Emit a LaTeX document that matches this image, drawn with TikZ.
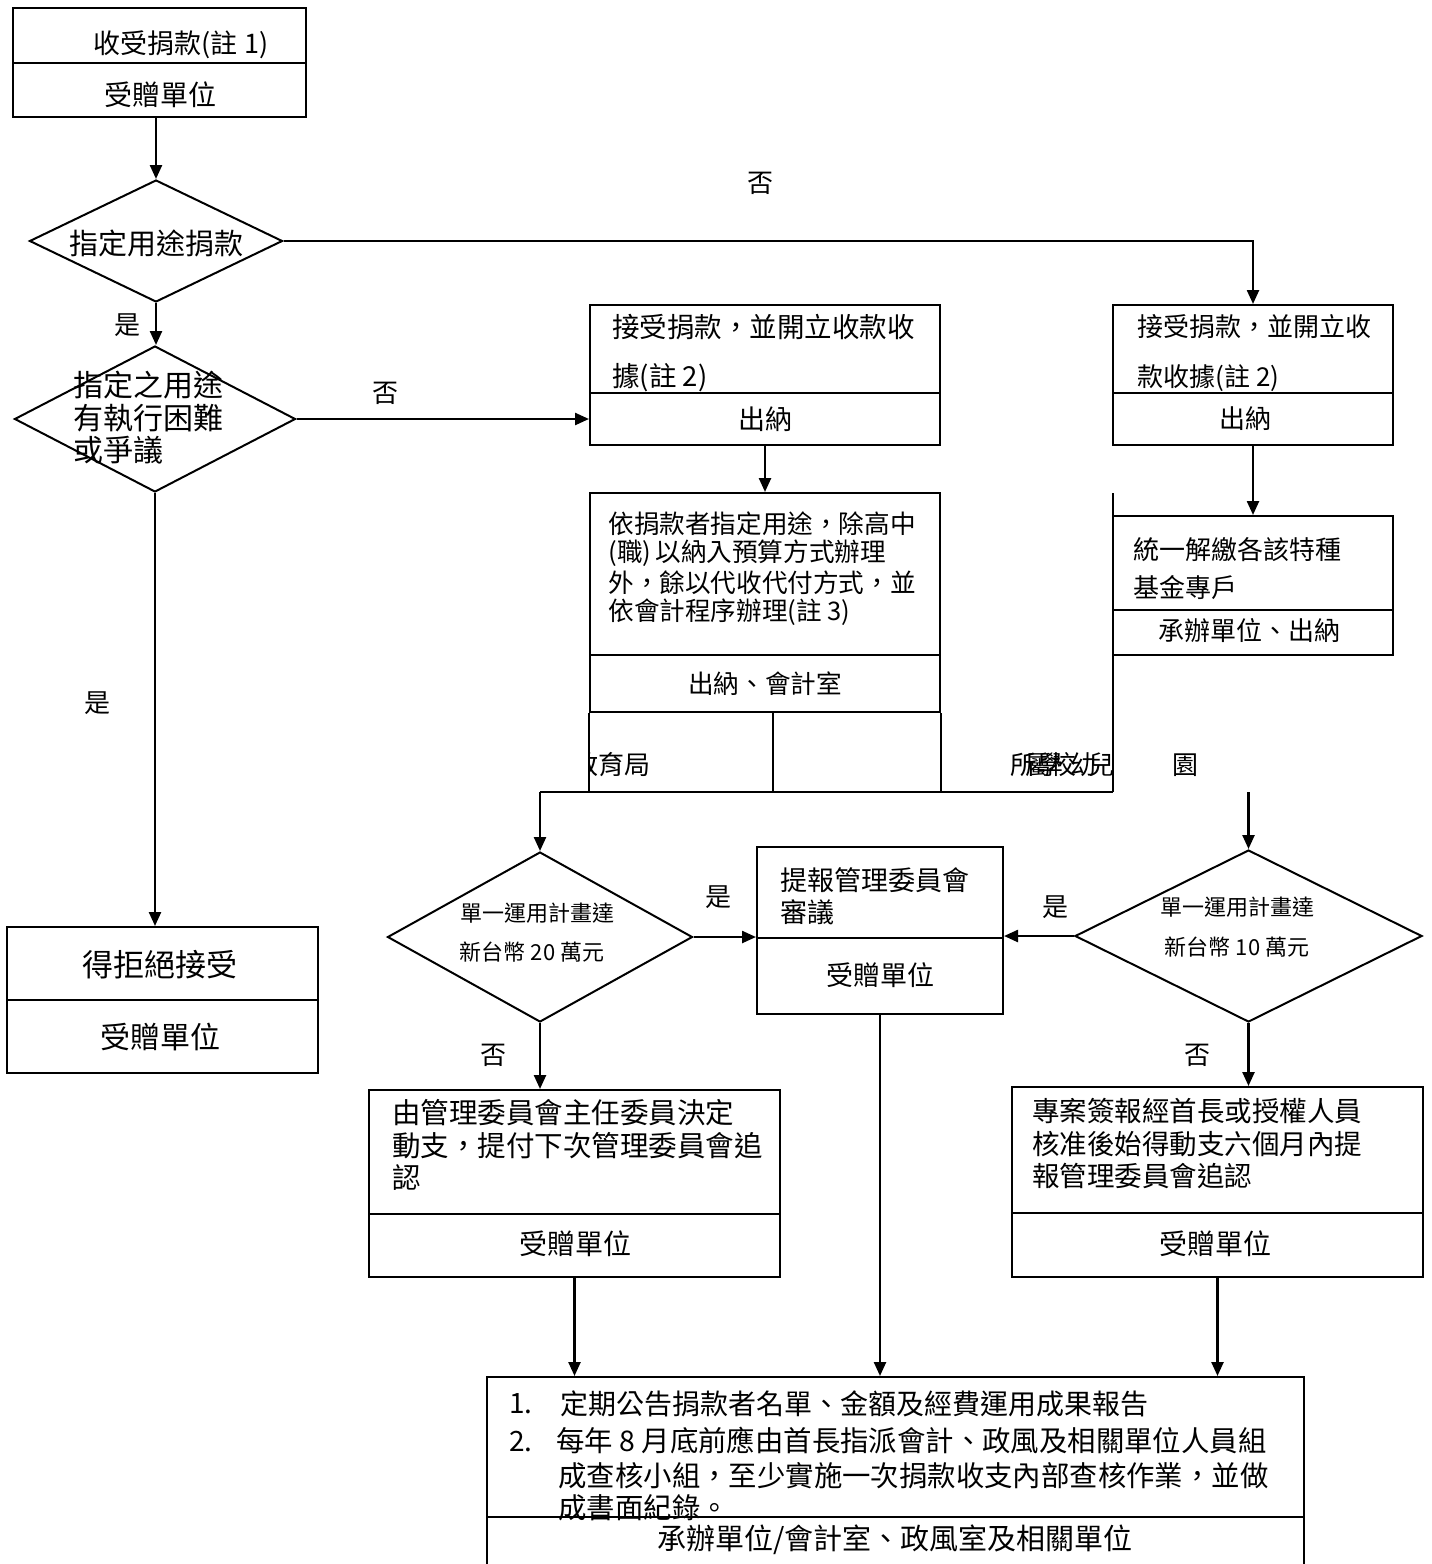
\documentclass[tikz,border=0pt]{standalone}
\usepackage{fontspec}
\newfontfamily\cjk{Noto Sans CJK TC}
\usetikzlibrary{shapes.geometric,arrows.meta}
\begin{document}
\begin{tikzpicture}[x=0.5pt,y=-0.5pt,
  boxline/.style={line width=1pt},
  frame/.style={draw, line width=1pt, rectangle, inner sep=0pt},
  choice/.style={draw, line width=1pt, diamond, inner sep=0pt},
  flow/.style={line width=1.2pt, -{Triangle[width=6pt,length=7pt]}},
  fs/.style={font=\cjk\fontsize{#1}{#1}\selectfont, inner sep=0pt},
  ln/.style={fs=#1, anchor=west},
]
\useasboundingbox (0,0) rectangle (1431,1564);

% ---------- receiving ----------
\node[frame, minimum width=146.5pt, minimum height=54.5pt] (recv) at (159.5,62.5) {};
\draw[boxline] (recv.west |- 0,63) -- (recv.east |- 0,63);
\node[fs=13.5] (recvT) at (181,45) {收受捐款(註 1)};
\node[fs=14] (recvU) at (160,95) {受贈單位};

% ---------- first decision ----------
\node[choice, minimum width=126.5pt, minimum height=61pt] (d1) at (156,241) {};
\node[fs=14.5] (d1T) at (156,243) {指定用途捐款};

% ---------- second decision ----------
\node[choice, minimum width=140.5pt, minimum height=73pt] (d2) at (155,419) {};
\node[ln=15] (d2a) at (73,385) {指定之用途};
\node[ln=15] (d2b) at (73,418) {有執行困難};
\node[ln=15] (d2c) at (73,450) {或爭議};

% ---------- refusal ----------
\node[frame, minimum width=155.5pt, minimum height=73pt] (h) at (162.5,1000) {};
\draw[boxline] (h.west |- 0,1000) -- (h.east |- 0,1000);
\node[fs=15.5] (hT) at (160,965) {得拒絕接受};
\node[fs=15] (hU) at (160,1037) {受贈單位};

% ---------- receipt (designated) ----------
\node[frame, minimum width=175pt, minimum height=70pt] (b1) at (765,375) {};
\draw[boxline] (b1.west |- 0,393) -- (b1.east |- 0,393);
\node[ln=13.75] (b1a) at (612,327) {接受捐款，並開立收款收};
\node[ln=13.75] (b1b) at (612,378) {據(註 2)};
\node[fs=13.5] (b1U) at (765,419) {出納};

% ---------- receipt (general) ----------
\node[frame, minimum width=140pt, minimum height=70pt] (c1) at (1253,375) {};
\draw[boxline] (c1.west |- 0,393) -- (c1.east |- 0,393);
\node[ln=13] (c1a) at (1137,327) {接受捐款，並開立收};
\node[ln=13] (c1b) at (1137,378) {款收據(註 2)};
\node[fs=13] (c1U) at (1245,419) {出納};

% ---------- handling (designated) ----------
\node[frame, minimum width=175pt, minimum height=109.5pt] (b2) at (765,602.5) {};
\draw[boxline] (b2.west |- 0,655) -- (b2.east |- 0,655);
\node[ln=12.8] (b2a) at (608,524) {依捐款者指定用途，除高中};
\node[ln=12.8] (b2b) at (608,553.5) {(職)\,以納入預算方式辦理};
\node[ln=12.8] (b2c) at (608,583) {外，餘以代收代付方式，並};
\node[ln=12.8] (b2d) at (608,612) {依會計程序辦理(註 3)};
\node[fs=12.8] (b2U) at (765,684) {出納、會計室};

% ---------- handling (general) ----------
\node[frame, minimum width=140pt, minimum height=69.5pt] (c2) at (1253,585.5) {};
\draw[boxline] (c2.west |- 0,610) -- (c2.east |- 0,610);
\node[ln=13] (c2a) at (1133,550) {統一解繳各該特種};
\node[ln=13] (c2b) at (1133,588) {基金專戶};
\node[fs=13] (c2U) at (1249,631) {承辦單位、出納};

% ---------- routing row ----------
\coordinate (busL) at (540,792);
\coordinate (busR) at (1113,792);
\coordinate (cellmid) at (773,712);
\coordinate (stub) at (1113,493);
\draw[boxline] (b2.south west) -- (b2.south west |- busL);
\draw[boxline] (cellmid) -- (cellmid |- busL);
\draw[boxline] (b2.south east) -- (b2.south east |- busL);
\draw[boxline] (stub) -- (busR);
\draw[boxline] (busL) -- (busR);
\begin{scope}
  \clip (590,712) rectangle (773,792);
  \node[ln=13] (edu) at (572,765) {教育局};
\end{scope}
\begin{scope}
  \clip (940,712) rectangle (1113,792);
  \foreach \c/\x in {所/1023,屬/1038,學/1050,校/1063,幼/1083,兒/1101}
    \node[fs=13] (sch\x) at (\x,765) {\c};
\end{scope}
\node[fs=13] (schEnd) at (1185,765) {園};

% ---------- amount decisions ----------
\node[choice, minimum width=152.5pt, minimum height=85pt] (d3) at (540,937) {};
\node[fs=11] (d3a) at (537,913) {單一運用計畫達};
\node[fs=11] (d3b) at (532,952) {新台幣 20 萬元};

\node[choice, minimum width=173.5pt, minimum height=86pt] (d4) at (1248.5,936) {};
\node[fs=11] (d4a) at (1237,907) {單一運用計畫達};
\node[fs=11] (d4b) at (1237,947) {新台幣 10 萬元};

% ---------- committee review ----------
\node[frame, minimum width=123pt, minimum height=83.5pt] (e) at (880,930.5) {};
\draw[boxline] (e.west |- 0,938) -- (e.east |- 0,938);
\node[ln=13.5] (ea) at (780,880) {提報管理委員會};
\node[ln=13.5] (eb) at (780,912) {審議};
\node[fs=13.5] (eU) at (880,975) {受贈單位};

% ---------- below threshold ----------
\node[frame, minimum width=205.5pt, minimum height=93.5pt] (f) at (574.5,1183.5) {};
\draw[boxline] (f.west |- 0,1214) -- (f.east |- 0,1214);
\node[ln=14.25] (fa) at (392,1113) {由管理委員會主任委員決定};
\node[ln=14.25] (fb) at (392,1146) {動支，提付下次管理委員會追};
\node[ln=14.25] (fc) at (392,1178) {認};
\node[fs=14] (fU) at (575,1244) {受贈單位};

\node[frame, minimum width=205.5pt, minimum height=95pt] (g) at (1217.5,1182) {};
\draw[boxline] (g.west |- 0,1213) -- (g.east |- 0,1213);
\node[ln=13.75] (ga) at (1032,1111) {專案簽報經首長或授權人員};
\node[ln=13.75] (gb) at (1032,1144) {核准後始得動支六個月內提};
\node[ln=13.75] (gc) at (1032,1176) {報管理委員會追認};
\node[fs=14] (gU) at (1215,1244) {受贈單位};

% ---------- disclosure and audit (runs off the lower edge) ----------
\node[frame, minimum width=408.5pt, minimum height=95pt] (k) at (895.5,1472) {};
\draw[boxline] (k.west |- 0,1517) -- (k.east |- 0,1517);
\node[ln=14] (k1n) at (509,1404) {1.};
\node[ln=14] (k1) at (560,1404) {定期公告捐款者名單、金額及經費運用成果報告};
\node[ln=14] (k2n) at (509,1441) {2.};
\node[ln=14.2] (k2) at (556,1441) {每年 8 月底前應由首長指派會計、政風及相關單位人員組};
\node[ln=14.2] (k3) at (558,1476) {成查核小組，至少實施一次捐款收支內部查核作業，並做};
\node[ln=14.2] (k4) at (558,1508) {成書面紀錄。};
\node[fs=14.5] (kU) at (895,1540) {承辦單位/會計室、政風室及相關單位};

% ---------- connectors ----------
\draw[flow] (d1.north |- recv.south) -- (d1.north);
\draw[flow] (d1.east) -- (d1.east -| c1.north) -- (c1.north);
\draw[flow] (d1.south) -- (d1.south |- d2.north);
\draw[flow] (d2.east) -- (d2.east -| b1.west);
\draw[flow] (d2.south) -- (d2.south |- h.north);
\draw[flow] (b1.south) -- (b2.north);
\draw[flow] (c1.south) -- (c2.north);
\draw[flow] (busL) -- (d3.north);
\draw[flow] (d4.north |- busR) -- (d4.north);
\draw[flow] (d3.east) -- (d3.east -| e.west);
\draw[flow] (d4.west) -- (d4.west -| e.east);
\draw[flow] (d3.south) -- (d3.south |- f.north);
\draw[flow] (d4.south) -- (d4.south |- g.north);
\draw[flow] (f.south) -- (f.south |- k.north);
\draw[flow] (e.south) -- (e.south |- k.north);
\draw[flow] (g.south) -- (g.south |- k.north);

% ---------- branch labels ----------
\node[fs=13] (lab1) at (760,183) {否};
\node[fs=13] (lab2) at (127,325) {是};
\node[fs=13] (lab3) at (385,393) {否};
\node[fs=13] (lab4) at (97,703) {是};
\node[fs=13] (lab5) at (718,897) {是};
\node[fs=13] (lab6) at (1055,907) {是};
\node[fs=13] (lab7) at (493,1055) {否};
\node[fs=13] (lab8) at (1197,1055) {否};
\end{tikzpicture}
\end{document}
